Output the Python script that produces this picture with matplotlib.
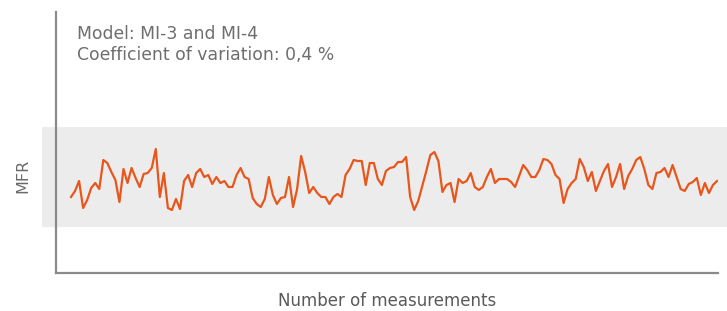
import numpy as np
import matplotlib
matplotlib.use("Agg")
import matplotlib.pyplot as plt

# MFR readings (arbitrary units, 0-100 = grey tolerance band)
mfr = [30, 36, 46, 19, 27, 39, 44, 38, 67, 64, 55, 47, 25, 58, 44, 59, 49, 40, 53, 54,
       59, 78, 30, 54, 19, 17, 28, 18, 46, 52, 40, 54, 58, 50, 52, 43, 50, 44, 46, 40,
       40, 52, 59, 50, 48, 29, 23, 20, 28, 50, 32, 23, 29, 30, 50, 20, 38, 71, 55, 34,
       40, 34, 30, 30, 23, 30, 33, 30, 52, 58, 67, 66, 66, 42, 64, 64, 48, 42, 56, 59,
       60, 65, 65, 70, 30, 17, 26, 41, 56, 72, 75, 66, 35, 42, 44, 25, 48, 44, 46, 54,
       40, 37, 40, 50, 58, 44, 48, 48, 48, 45, 40, 51, 62, 57, 50, 50, 57, 68, 67, 63,
       52, 48, 24, 38, 44, 48, 68, 60, 46, 55, 36, 46, 56, 63, 40, 50, 63, 38, 51, 58,
       67, 70, 58, 42, 38, 54, 55, 59, 50, 62, 50, 38, 36, 43, 45, 49, 32, 44, 34, 42,
       46]
band = (0, 100)
info_lines = ["Model: MI-3 and MI-4", "Coefficient of variation: 0,4 %"]

n = len(mfr)
x = np.arange(n)

fig = plt.figure(figsize=(7.27, 3.11), dpi=100)
ax = fig.add_axes([56 / 727, 38 / 311, 662 / 727, 261 / 311])
ax.set_facecolor("none")

# grey band runs a little past the axes on both sides
ax.axhspan(band[0], band[1], xmin=-14 / 662, xmax=671 / 662,
           color="#ececec", lw=0, clip_on=False, zorder=0)

ax.plot(x, mfr, color="#e8561c", lw=1.6, zorder=2)

# x span: first point 15px right of the spine, last point 1px before the end
scale = 646 / (n - 1)
ax.set_xlim(-15 / scale, (n - 1) + 1 / scale)
ax.set_ylim(-46, 215)

for s in ["top", "right"]:
    ax.spines[s].set_visible(False)
for s in ["left", "bottom"]:
    ax.spines[s].set_color("#8a8a8a")
    ax.spines[s].set_linewidth(1.6)
    ax.spines[s].set_zorder(3)
ax.set_xticks([])
ax.set_yticks([])

ax.set_xlabel("Number of measurements", fontsize=12, color="#5a5a5a", labelpad=14)
ax.set_ylabel("MFR", fontsize=11.5, color="#6a6a6a")
ax.yaxis.set_label_coords(-0.039, 1 - (176 - 12) / 261)

ax.text(0.032, 0.875, "\n".join(info_lines), transform=ax.transAxes,
        fontsize=12.4, color="#6e6e6e", va="center", ha="left", linespacing=1.25)

fig.savefig("out.png", dpi=100)
